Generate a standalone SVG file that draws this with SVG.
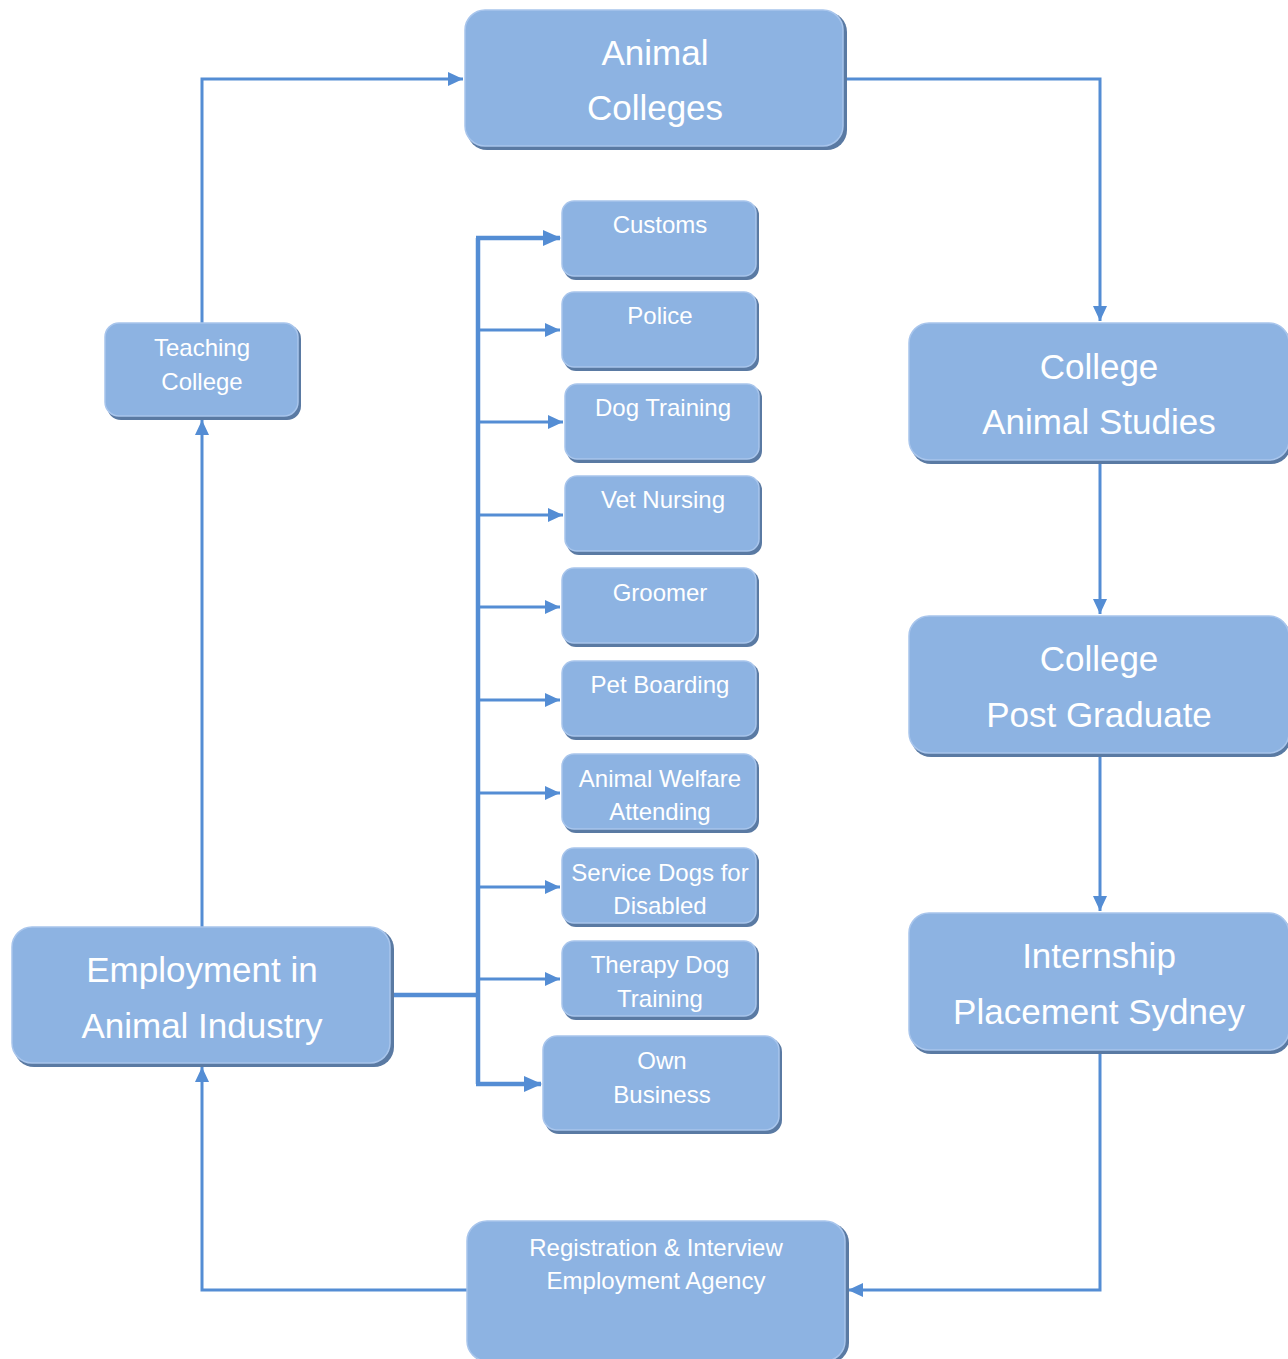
<svg xmlns="http://www.w3.org/2000/svg" width="1288" height="1359" viewBox="0 0 1288 1359">
<defs>
<style>
.sh{fill:#5a7aa3}
.bx{fill:#8db3e2;stroke:#a8c5ec;stroke-width:1.5}
.t{font-family:"Liberation Sans",Arial,sans-serif;fill:#ffffff;text-anchor:middle;dominant-baseline:central}
.big{font-size:35px}
.sm{font-size:24px}
.ln{fill:none;stroke:#548dd4;stroke-width:3}
.thk{fill:none;stroke:#548dd4;stroke-width:4.5}
</style>
<marker id="ah" markerUnits="userSpaceOnUse" markerWidth="16" markerHeight="16" viewBox="0 0 16 16" refX="15" refY="8" orient="auto">
<path d="M0,1 L15,8 L0,15 Z" fill="#548dd4"/>
</marker>
<marker id="ahb" markerUnits="userSpaceOnUse" markerWidth="18" markerHeight="18" viewBox="0 0 18 18" refX="17" refY="9" orient="auto">
<path d="M0,1 L18,9 L0,17 Z" fill="#548dd4"/>
</marker>
</defs>
<rect width="1288" height="1359" fill="#ffffff"/>

<g id="connectors">
<path class="ln" d="M845,79 H1100 V321" marker-end="url(#ah)"/>
<path class="ln" d="M1100,463 V614" marker-end="url(#ah)"/>
<path class="ln" d="M1100,755 V911" marker-end="url(#ah)"/>
<path class="ln" d="M1100,1052 V1290 H848" marker-end="url(#ah)"/>
<path class="ln" d="M467,1290 H202 V1067" marker-end="url(#ah)"/>
<path class="ln" d="M202,927 V420" marker-end="url(#ah)"/>
<path class="ln" d="M202,323 V79 H463" marker-end="url(#ah)"/>
<path class="thk" d="M392,995 H478"/>
<path class="thk" d="M478,1084 V238"/>
<path class="thk" d="M476,238 H560" marker-end="url(#ahb)"/>
<path class="ln" d="M478,330 H560" marker-end="url(#ah)"/>
<path class="ln" d="M478,422 H563" marker-end="url(#ah)"/>
<path class="ln" d="M478,515 H563" marker-end="url(#ah)"/>
<path class="ln" d="M478,607 H560" marker-end="url(#ah)"/>
<path class="ln" d="M478,700 H560" marker-end="url(#ah)"/>
<path class="ln" d="M478,793 H560" marker-end="url(#ah)"/>
<path class="ln" d="M478,887 H560" marker-end="url(#ah)"/>
<path class="ln" d="M478,979 H560" marker-end="url(#ah)"/>
<path class="thk" d="M476,1084 H541" marker-end="url(#ahb)"/>
</g>

<g id="animal-colleges">
<rect class="sh" x="467" y="12" width="380" height="138" rx="20"/>
<rect class="bx" x="465" y="10" width="378" height="136" rx="20"/>
<text class="t big" x="655" y="52">Animal</text>
<text class="t big" x="655" y="107">Colleges</text>
</g>

<g id="college-animal-studies">
<rect class="sh" x="911" y="325" width="380" height="139" rx="20"/>
<rect class="bx" x="909" y="323" width="380" height="137" rx="20"/>
<text class="t big" x="1099" y="366">College</text>
<text class="t big" x="1099" y="421">Animal Studies</text>
</g>

<g id="college-post-graduate">
<rect class="sh" x="911" y="618" width="380" height="139" rx="20"/>
<rect class="bx" x="909" y="616" width="380" height="137" rx="20"/>
<text class="t big" x="1099" y="658">College</text>
<text class="t big" x="1099" y="714">Post Graduate</text>
</g>

<g id="internship">
<rect class="sh" x="911" y="915" width="380" height="139" rx="20"/>
<rect class="bx" x="909" y="913" width="380" height="137" rx="20"/>
<text class="t big" x="1099" y="955">Internship</text>
<text class="t big" x="1099" y="1011">Placement Sydney</text>
</g>

<g id="registration">
<rect class="sh" x="469" y="1223" width="380" height="140" rx="20"/>
<rect class="bx" x="467" y="1221" width="378" height="140" rx="20"/>
<text class="t sm" x="656" y="1247">Registration &amp; Interview</text>
<text class="t sm" x="656" y="1280">Employment Agency</text>
</g>

<g id="employment">
<rect class="sh" x="14" y="929" width="380" height="138" rx="20"/>
<rect class="bx" x="12" y="927" width="378" height="136" rx="20"/>
<text class="t big" x="202" y="969">Employment in</text>
<text class="t big" x="202" y="1025">Animal Industry</text>
</g>

<g id="teaching-college">
<rect class="sh" x="107" y="325" width="194" height="95" rx="14"/>
<rect class="bx" x="105" y="323" width="193" height="93" rx="14"/>
<text class="t sm" x="202" y="347">Teaching</text>
<text class="t sm" x="202" y="381">College</text>
</g>

<g id="customs">
<rect class="sh" x="564" y="203" width="195" height="77" rx="12"/>
<rect class="bx" x="562" y="201" width="194" height="75" rx="12"/>
<text class="t sm" x="660" y="224">Customs</text>
</g>

<g id="police">
<rect class="sh" x="564" y="294" width="195" height="77" rx="12"/>
<rect class="bx" x="562" y="292" width="194" height="75" rx="12"/>
<text class="t sm" x="660" y="315">Police</text>
</g>

<g id="dog-training">
<rect class="sh" x="567" y="386" width="195" height="77" rx="12"/>
<rect class="bx" x="565" y="384" width="194" height="75" rx="12"/>
<text class="t sm" x="663" y="407">Dog Training</text>
</g>

<g id="vet-nursing">
<rect class="sh" x="567" y="478" width="195" height="77" rx="12"/>
<rect class="bx" x="565" y="476" width="194" height="75" rx="12"/>
<text class="t sm" x="663" y="499">Vet Nursing</text>
</g>

<g id="groomer">
<rect class="sh" x="564" y="570" width="195" height="77" rx="12"/>
<rect class="bx" x="562" y="568" width="194" height="75" rx="12"/>
<text class="t sm" x="660" y="592">Groomer</text>
</g>

<g id="pet-boarding">
<rect class="sh" x="564" y="663" width="195" height="77" rx="12"/>
<rect class="bx" x="562" y="661" width="194" height="75" rx="12"/>
<text class="t sm" x="660" y="684">Pet Boarding</text>
</g>

<g id="animal-welfare">
<rect class="sh" x="564" y="756" width="195" height="77" rx="12"/>
<rect class="bx" x="562" y="754" width="194" height="75" rx="12"/>
<text class="t sm" x="660" y="778">Animal Welfare</text>
<text class="t sm" x="660" y="811">Attending</text>
</g>

<g id="service-dogs">
<rect class="sh" x="564" y="850" width="195" height="77" rx="12"/>
<rect class="bx" x="562" y="848" width="194" height="75" rx="12"/>
<text class="t sm" x="660" y="872">Service Dogs for</text>
<text class="t sm" x="660" y="905">Disabled</text>
</g>

<g id="therapy-dog">
<rect class="sh" x="564" y="943" width="195" height="77" rx="12"/>
<rect class="bx" x="562" y="941" width="194" height="75" rx="12"/>
<text class="t sm" x="660" y="964">Therapy Dog</text>
<text class="t sm" x="660" y="998">Training</text>
</g>

<g id="own-business">
<rect class="sh" x="545" y="1038" width="237" height="96" rx="14"/>
<rect class="bx" x="543" y="1036" width="236" height="94" rx="14"/>
<text class="t sm" x="662" y="1060">Own</text>
<text class="t sm" x="662" y="1094">Business</text>
</g>
</svg>
